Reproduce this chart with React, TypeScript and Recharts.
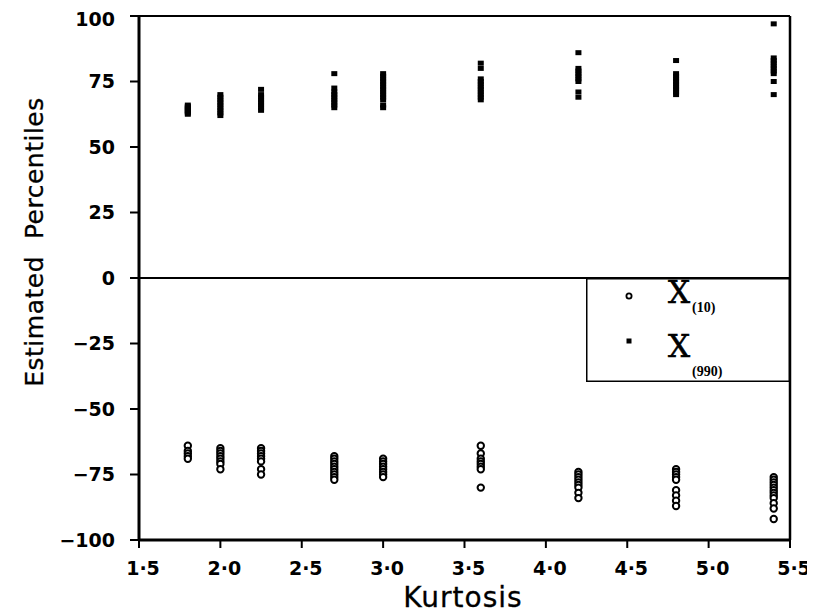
import React from "react";
import {
  ScatterChart,
  Scatter,
  XAxis,
  YAxis,
  ReferenceLine,
  Legend,
} from "recharts";

// Kurtosis values at which the samples were taken
const kurtosisLevels = [1.8, 2.0, 2.25, 2.7, 3.0, 3.6, 4.2, 4.8, 5.4];

// Estimated upper percentile X(990) at each kurtosis level
const upperX990 = [
  [66, 65.5, 65, 64.5, 64, 63.5, 63, 62.5],
  [70, 69, 68, 67, 66, 65, 64, 63, 62],
  [72, 70, 69, 68, 67, 66, 65, 64],
  [78, 72.5, 71, 70, 69, 68, 67, 66, 65],
  [78, 77, 76, 75, 74, 73, 72, 71, 70, 69, 68, 66, 65],
  [82, 80, 76, 75, 74, 73, 72, 71, 70, 69, 68],
  [86, 80, 79, 78, 77, 76, 75, 71, 69],
  [83, 78, 77, 76, 75, 74, 73, 72, 71, 70],
  [97, 84, 83, 82, 81, 80, 79, 78, 75, 70],
];

// Estimated lower percentile X(10) at each kurtosis level
const lowerX10 = [
  [-64, -66, -67, -68, -69],
  [-65, -66, -67, -68, -69, -70, -71, -73],
  [-65, -66, -67, -68, -69, -70, -73, -75],
  [-68, -69, -70, -71, -72, -73, -74, -75, -76, -77],
  [-69, -70, -71, -72, -73, -74, -75, -76],
  [-64, -67, -69, -70, -71, -72, -73, -80],
  [-74, -75, -76, -77, -78, -79, -80, -82, -84],
  [-73, -74, -75, -76, -77, -81, -83, -85, -87],
  [-76, -77, -78, -79, -80, -81, -82, -83, -84, -86, -88, -92],
];

const xTicks = [1.5, 2.0, 2.5, 3.0, 3.5, 4.0, 4.5, 5.0, 5.5];
const yTicks = [-100, -75, -50, -25, 0, 25, 50, 75, 100];

const xAxisTitle = "Kurtosis";
const yAxisTitle = "Estimated  Percentiles";

const upperData = kurtosisLevels.flatMap((k, i) =>
  upperX990[i].map((v) => ({ k, v }))
);
const lowerData = kurtosisLevels.flatMap((k, i) =>
  lowerX10[i].map((v) => ({ k, v }))
);

const fmtX = (v: number) => v.toFixed(1).replace(".", "·");
const fmtY = (v: number) => (v < 0 ? "\u2212" + Math.abs(v) : String(v));

const SquareShape = (props: any) => {
  const { cx, cy } = props;
  if (cx == null || cy == null) return null;
  return <rect x={cx - 3} y={cy - 2.5} width={6} height={5} fill="#000" />;
};

const CircleShape = (props: any) => {
  const { cx, cy } = props;
  if (cx == null || cy == null) return null;
  return (
    <circle cx={cx} cy={cy} r={3.2} fill="#fff" stroke="#000" strokeWidth={2} />
  );
};

const LegendBox = () => (
  <svg width={204} height={104} style={{ display: "block", overflow: "visible" }}>
    <rect x={0.75} y={0.75} width={202.5} height={102.5} fill="#fff" stroke="#000" strokeWidth={1.5} />
    <circle cx={43} cy={18} r={2.6} fill="#fff" stroke="#000" strokeWidth={1.8} />
    <text x={82} y={25} fontFamily="DejaVu Serif" fontSize={31} fill="#000" stroke="#000" strokeWidth={0.6}>X</text>
    <text x={106} y={34} fontFamily="Liberation Serif" fontWeight="bold" fontSize={14} fill="#000">(10)</text>
    <rect x={40.5} y={60.5} width={5} height={5} fill="#000" />
    <text x={82} y={79} fontFamily="DejaVu Serif" fontSize={31} fill="#000" stroke="#000" strokeWidth={0.6}>X</text>
    <text x={106} y={98} fontFamily="Liberation Serif" fontWeight="bold" fontSize={14} fill="#000">(990)</text>
  </svg>
);

const YTitle = () => (
  <text
    x={35}
    y={234}
    transform="rotate(-90, 35, 234)"
    textAnchor="middle"
    fontFamily="DejaVu Sans"
    fontSize={25}
    letterSpacing={0.5}
    fill="#000"
    stroke="#000"
    strokeWidth={0.3}
    style={{ whiteSpace: "pre" }}
  >
    {yAxisTitle}
  </text>
);

const XTitle = () => (
  <text
    x={455}
    y={599}
    textAnchor="middle"
    fontFamily="DejaVu Sans"
    fontSize={28}
    letterSpacing={1}
    fill="#000"
    stroke="#000"
    strokeWidth={0.3}
  >
    {xAxisTitle}
  </text>
);

export default function App() {
  const tickStyle = {
    fontFamily: "DejaVu Sans",
    fontWeight: "bold",
    fontSize: 19,
    fill: "#000",
  } as any;
  return (
    <div style={{ width: 807, height: 608, position: "relative" }}>
      <ScatterChart
        width={807}
        height={608}
        margin={{ top: 8, right: 25, left: 0, bottom: 0 }}
      >
        <XAxis
          type="number"
          dataKey="k"
          domain={[1.5, 5.5]}
          ticks={xTicks}
          tickFormatter={fmtX}
          allowDataOverflow
          height={76}
          tickSize={8}
          tickMargin={14}
          axisLine={{ stroke: "#000", strokeWidth: 3 }}
          tickLine={{ stroke: "#000", strokeWidth: 2 }}
          tick={{ ...tickStyle, dx: 4 }}
          label={<XTitle />}
        />
        <YAxis
          type="number"
          dataKey="v"
          domain={[-100, 100]}
          ticks={yTicks}
          tickFormatter={fmtY}
          allowDataOverflow
          width={131}
          tickSize={9}
          tickMargin={15}
          axisLine={{ stroke: "#000", strokeWidth: 3 }}
          tickLine={{ stroke: "#000", strokeWidth: 2 }}
          tick={tickStyle}
          label={<YTitle />}
        />
        <ReferenceLine y={0} stroke="#000" strokeWidth={2} />
        <ReferenceLine y={100} stroke="#000" strokeWidth={2} />
        <ReferenceLine x={5.5} stroke="#000" strokeWidth={2.5} />
        <Scatter
          name="X(10)"
          data={lowerData}
          shape={<CircleShape />}
          isAnimationActive={false}
        />
        <Scatter
          name="X(990)"
          data={upperData}
          shape={<SquareShape />}
          isAnimationActive={false}
        />
        <Legend
          layout="vertical"
          align="center"
          verticalAlign="middle"
          content={<LegendBox />}
          wrapperStyle={{ position: "absolute", left: 578, top: 270, width: 204, height: 104, bottom: "auto", right: "auto", margin: 0 }}
        />
      </ScatterChart>
    </div>
  );
}
